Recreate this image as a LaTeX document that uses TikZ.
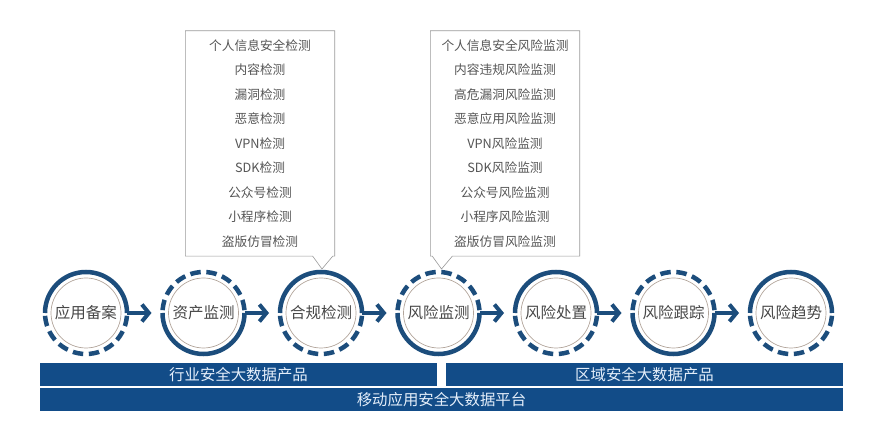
\documentclass[tikz,border=0pt]{standalone}
\usepackage{fontspec}
\setmainfont{Noto Sans CJK SC}
\usetikzlibrary{arrows.meta,positioning}
\definecolor{ringblue}{RGB}{28,77,124}
\definecolor{barblue}{RGB}{18,76,136}
\definecolor{thinring}{RGB}{178,165,155}
\definecolor{boxtext}{RGB}{85,85,85}
\definecolor{bartext}{RGB}{228,238,250}
\tikzset{
  stage/.style={circle, minimum size=82pt, inner sep=0pt, outer sep=0pt, text=black!72,
    font=\fontsize{15.5}{18}\selectfont,
    path picture={\draw[thinring, line width=0.7pt] (path picture bounding box.center) circle[radius=35pt];}},
  solidring/.style={draw=ringblue, line width=4.5pt},
  dashring/.style={solidring, dash pattern=on 10.5pt off 5.6pt, dash phase=13.3pt},
  infobox/.style={minimum width=149pt, minimum height=225pt, align=center, text=boxtext,
    font=\fontsize{12.7}{24.5}\selectfont},
  boxline/.style={draw=black!40, line width=0.6pt},
  bar/.style={fill=barblue, minimum height=23pt, inner sep=0pt, outer sep=0pt, text=bartext,
    font=\fontsize{15.4}{18}\selectfont}
}
\begin{document}
\begin{tikzpicture}[x=1pt, y=1pt, node distance= 117.5pt]
  \useasboundingbox (-86,-120) rectangle (787,313);
  \begin{scope}[every node/.style={stage}]
    \node (a1) at (0,0) {应用备案};
    \node (a2) [right of= a1] {资产监测};
    \node (a3) [right of= a2] {合规检测};
    \node (a4) [right of= a3] {风险监测};
    \node (a5) [right of= a4] {风险处置};
    \node (a6) [right of= a5] {风险跟踪};
    \node (a7) [right of= a6] {风险趋势};
  \end{scope}
  % half rings, solid and dashed
  \draw[solidring] (a1.west) arc[start angle=180, end angle=0, radius=41pt];
  \draw[dashring] (a1.west) arc[start angle=180, end angle=360, radius=41pt];
  \draw[dashring] (a2.west) arc[start angle=180, end angle=0, radius=41pt];
  \draw[solidring] (a2.west) arc[start angle=180, end angle=360, radius=41pt];
  \draw[solidring] (a3.west) arc[start angle=180, end angle=0, radius=41pt];
  \draw[dashring] (a3.west) arc[start angle=180, end angle=360, radius=41pt];
  \draw[dashring] (a4.west) arc[start angle=180, end angle=0, radius=41pt];
  \draw[solidring] (a4.west) arc[start angle=180, end angle=360, radius=41pt];
  \draw[solidring] (a5.west) arc[start angle=180, end angle=0, radius=41pt];
  \draw[dashring] (a5.west) arc[start angle=180, end angle=360, radius=41pt];
  \draw[dashring] (a6.west) arc[start angle=180, end angle=0, radius=41pt];
  \draw[solidring] (a6.west) arc[start angle=180, end angle=360, radius=41pt];
  \draw[solidring] (a7.west) arc[start angle=180, end angle=0, radius=41pt];
  \draw[dashring] (a7.west) arc[start angle=180, end angle=360, radius=41pt];
  \begin{scope}
    [every edge/.style={draw=ringblue, line width=4pt,
      -{Straight Barb[length=7pt,width=17pt]}, shorten >=11pt}]
    \path (a1) edge (a2);
    \path (a2) edge (a3);
    \path (a3) edge (a4);
    \path (a4) edge (a5);
    \path (a5) edge (a6);
    \path (a6) edge (a7);
  \end{scope}
  % callouts
  \node[infobox] (b1) at ([shift={(-61,169.5)}]a3) {个人信息安全检测\\内容检测\\漏洞检测\\恶意检测\\VPN检测\\SDK检测\\公众号检测\\小程序检测\\盗版仿冒检测};
  \node[infobox] (b2) at ([shift={(66.5,169.5)}]a4) {个人信息安全风险监测\\内容违规风险监测\\高危漏洞风险监测\\恶意应用风险监测\\VPN风险监测\\SDK风险监测\\公众号风险监测\\小程序风险监测\\盗版仿冒风险监测};
  \coordinate (t1) at ([shift={(1,3)}]a3.north);
  \coordinate (t2) at ([shift={(3,3)}]a4.north);
  \draw[boxline] (b1.south west) -- (b1.north west) -- (b1.north east) -- (b1.south east)
    -- ([xshift=-2pt]b1.south east) -- (t1) -- ([xshift=-22pt]b1.south east) -- cycle;
  \draw[boxline] (b2.south east) -- (b2.north east) -- (b2.north west) -- (b2.south west)
    -- ([xshift=2pt]b2.south west) -- (t2) -- ([xshift=22pt]b2.south west) -- cycle;
  % bars
  \node[bar, minimum width=397pt] (ind) at (152.5,-61.5) {行业安全大数据产品};
  \node[bar, minimum width=397pt] (reg) [right= 9pt of ind] {区域安全大数据产品};
  \node[bar, minimum width=803pt] (plat) [below right= 2pt and 0pt of ind.south west] {移动应用安全大数据平台};
\end{tikzpicture}
\end{document}
